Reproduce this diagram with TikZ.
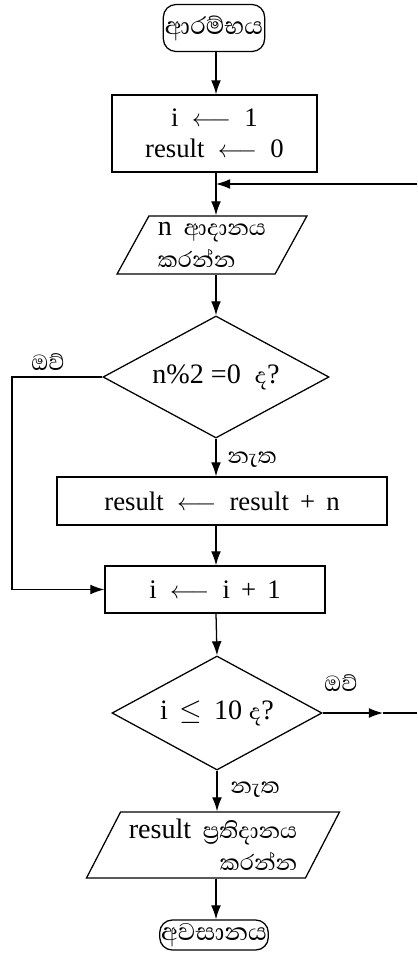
\documentclass[tikz,border=0pt]{standalone}
\usepackage{fontspec}
\setmainfont{Liberation Serif}
\newfontfamily\sinhfont[Script=Sinhala]{Abhaya Libre}
\usetikzlibrary{shapes.geometric, arrows.meta}

\begin{document}
\begin{tikzpicture}[x=0.025cm, y=-0.025cm, line width=0.9pt,
    >={Latex[length=10pt, width=7pt]},
    every node/.style={font=\fontsize{19}{22}\selectfont},
    term/.style={draw, rectangle, rounded corners=9pt, inner sep=1pt, font=\sinhfont\fontsize{22}{24}\selectfont},
    proc/.style={draw, rectangle, align=center},
    io/.style={draw, trapezium, trapezium left angle=60, trapezium right angle=120,
        trapezium stretches=true, inner sep=1pt, font=\fontsize{20}{23}\selectfont},
    dec/.style={draw, diamond, aspect=1.85, inner sep=0pt, font=\fontsize{20}{23}\selectfont},
    lbl/.style={font=\sinhfont\fontsize{20}{22}\selectfont}]
    \useasboundingbox (0,0) rectangle (417,967);

    % start and initial values
    \node[term, minimum width=2.45cm, minimum height=1.175cm] (start) at (214,28) {ආරම්භය};
    \node[proc, minimum width=5.125cm, minimum height=1.925cm] (init) at (214.5,133.5)
        {i \ $\longleftarrow$ \ 1\\ result \ $\longleftarrow$ \ 0};
    \coordinate (merge) at (216,184);
    \coordinate (loop) at (417,184);

    % read n
    \node[io, minimum width=4.75cm, minimum height=1.45cm, align=left] (in) at (212,245)
        {n \,{\sinhfont ආදානය}\\ {\sinhfont කරන්න}};

    % is n even?
    \node[dec, minimum width=5.65cm, minimum height=3.05cm] (even) at (216,377) {n\%2 =0 \ {\sinhfont ද}?};
    \node[proc, minimum width=8.25cm, minimum height=1.2cm] (add) at (222,501)
        {result \ $\longleftarrow$ \ result \,+\, n};
    \node[proc, minimum width=5.5cm, minimum height=1.175cm] (inc) at (215,589.5)
        {i \ $\longleftarrow$ \ i \,+\, 1};
    \coordinate (evenl) at (12,377);

    % i <= 10 ?
    \node[dec, minimum width=5.25cm, minimum height=2.85cm] (test) at (217,713) {i \,$\leq$\, 10 {\sinhfont ද}?};
    \coordinate (tip) at (383,713);
    \coordinate (testr) at (417,713);

    % output and end
    \node[io, minimum width=6.325cm, minimum height=1.65cm, align=right] (out) at (213,845)
        {result \,{\sinhfont ප්^^^^200dරතිදානය}\\ {\sinhfont කරන්න}};
    \node[term, minimum width=2.7cm, minimum height=0.75cm] (stop) at (214,935) {අවසානය};

    % labels
    \node[lbl] (yes1) at (48,362) {ඔව්};
    \node[lbl] (no1) at (252,460) {නැත};
    \node[lbl] (yes2) at (341,683) {ඔව්};
    \node[lbl] (no2) at (255,790) {නැත};

    % connectors
    \draw[->] (start.south -| merge) -- (init.north -| merge);
    \draw (init.south -| merge) -- (merge);
    \draw[->] (merge) -- (in.north -| merge);
    \draw[->] (loop) -- (merge);
    \draw[->] (in.south -| merge) -- (even.north);
    \draw[->] (even.south) -- (add.north -| even.south);
    \draw[->] (add.south -| merge) -- (inc.north -| merge);
    \draw[->] (even.west) -- (evenl) |- (inc.west);
    \draw[->] (inc.south -| merge) -- (test.north);
    \draw[->] (test.east) -- (tip);
    \draw (tip) -- (testr);
    \draw[->] (test.south) -- (out.north -| test.south);
    \draw[->] (out.south -| merge) -- (stop.north -| merge);
\end{tikzpicture}
\end{document}
